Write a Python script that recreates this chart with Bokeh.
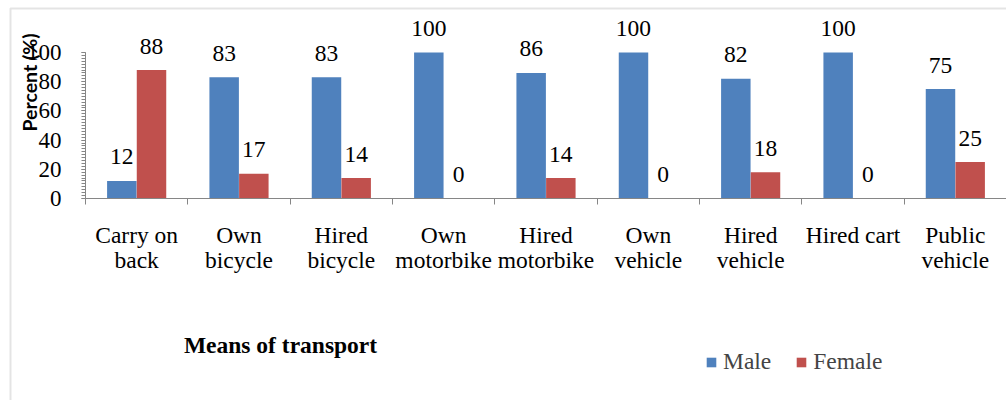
import numpy as np
from bokeh.plotting import figure
from bokeh.models import (Range1d, FixedTicker, ColumnDataSource, Label, Legend, LegendItem,
                          BoxAnnotation)
from bokeh.core.properties import value
from bokeh.embed import file_html
from bokeh.resources import INLINE
from math import pi

categories = ["Carry on\nback", "Own\nbicycle", "Hired\nbicycle", "Own\nmotorbike",
              "Hired\nmotorbike", "Own\nvehicle", "Hired\nvehicle", "Hired cart", "Public\nvehicle"]
male = [12, 83, 83, 100, 86, 100, 82, 100, 75]
female = [88, 17, 14, 0, 14, 0, 18, 0, 25]
y_ticks = [0, 20, 40, 60, 80, 100]

BLUE = "#4F81BD"
RED = "#C0504D"
AXIS = "#868686"
FRAME = "#a6a6a6"
SERIF = "Liberation Serif"

# layout in pixels
W, H = 1006, 400
AX_X, AX_Y, PX_TOP = 85, 198, 52   # y-axis x, x-axis y, pixel of y=100
n = len(categories)
cw = (W - AX_X) / n                # pixels per category
ppu = (AX_Y - PX_TOP) / 100.0      # pixels per percent

def dx(px):
    return (px - AX_X) / cw

def dy(py):
    return (AX_Y - py) / ppu

xc = np.arange(n) + 0.5
bw = 0.288
off = 0.145

p = figure(width=W, height=H, output_backend="svg", toolbar_location=None,
           x_range=Range1d(dx(0), dx(W)), y_range=Range1d(dy(H), dy(0)),
           min_border=0)
p.outline_line_color = None
p.xgrid.visible = False
p.ygrid.visible = False
p.background_fill_color = "white"
p.border_fill_color = "white"

src_m = ColumnDataSource(dict(x=xc - off, top=male, lab=[str(v) for v in male]))
src_f = ColumnDataSource(dict(x=xc + off, top=female, lab=[str(v) for v in female]))

rm = p.vbar(x="x", top="top", width=bw, source=src_m, fill_color=BLUE, line_color=None)
rf = p.vbar(x="x", top="top", width=bw, source=src_f, fill_color=RED, line_color=None)

for s in (src_m, src_f):
    p.text(x="x", y="top", text="lab", source=s, text_align="center", text_baseline="alphabetic",
           y_offset=-24, text_font=value(SERIF), text_font_size="23.5px", text_color="black")

# y axis
ya = p.yaxis[0]
ya.fixed_location = 0
ya.ticker = FixedTicker(ticks=y_ticks, minor_ticks=list(range(0, 101, 2)))
ya.bounds = (0, 100)
ya.axis_line_color = AXIS
ya.major_tick_line_color = AXIS
ya.minor_tick_line_color = AXIS
ya.major_tick_in = 0
ya.major_tick_out = 4
ya.minor_tick_in = 0
ya.minor_tick_out = 4
ya.major_label_standoff = 20
ya.major_label_text_font = SERIF
ya.major_label_text_font_size = "23px"
ya.major_label_text_color = "black"

# x axis
xa = p.xaxis[0]
xa.fixed_location = 0
xa.bounds = (0, n)
xa.ticker = FixedTicker(ticks=list(xc), minor_ticks=list(range(0, n + 1)))
xa.major_label_overrides = {float(x): c for x, c in zip(xc, categories)}
xa.axis_line_color = AXIS
xa.major_tick_line_color = None
xa.major_tick_in = 0
xa.major_tick_out = 0
xa.minor_tick_line_color = AXIS
xa.minor_tick_in = 0
xa.minor_tick_out = 6
xa.major_label_standoff = 17
xa.major_label_text_font = SERIF
xa.major_label_text_font_size = "23.5px"
xa.major_label_text_line_height = 0.98
xa.major_label_text_color = "black"
xa.major_label_text_align = "center"

# chart border (left and top edges)
p.add_layout(BoxAnnotation(left=dx(10), top=dy(8), right=dx(W + 50), bottom=dy(H + 50),
                           fill_alpha=0, line_color=FRAME, line_width=2))

p.add_layout(Label(x=29, y=H - 82, x_units="screen", y_units="screen", text="Percent (%)",
                   angle=pi / 2, text_align="center", text_baseline="middle",
                   text_font="Lato", text_font_style="bold", text_font_size="19.5px",
                   text_color="black"))
p.add_layout(Label(x=280, y=H - 344, x_units="screen", y_units="screen", text="Means of transport",
                   text_align="center", text_baseline="middle",
                   text_font=SERIF, text_font_style="bold", text_font_size="23.5px",
                   text_color="black"))

legend = Legend(items=[LegendItem(label="Male", renderers=[rm]),
                       LegendItem(label="Female", renderers=[rf])],
                location=(705, 25), orientation="horizontal",
                glyph_width=12, glyph_height=12, label_standoff=6, spacing=24,
                padding=0, margin=0, border_line_color=None, background_fill_alpha=0,
                label_text_font=SERIF, label_text_font_size="23.5px", label_height=22)
p.add_layout(legend, "center")

open("out.html", "w").write(file_html(p, INLINE))
